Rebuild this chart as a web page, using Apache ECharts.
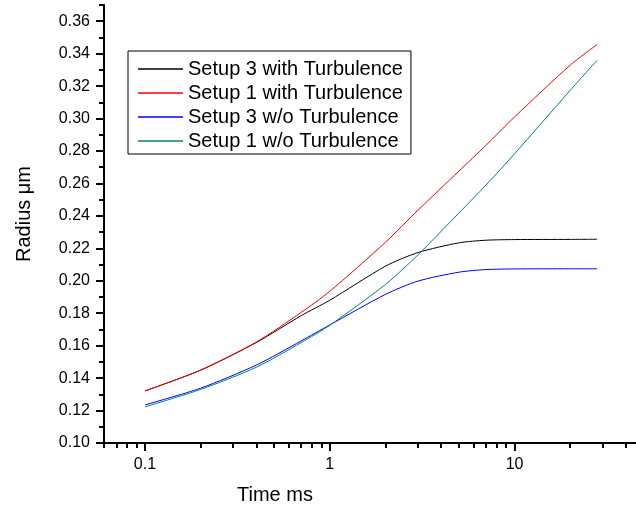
<!DOCTYPE html>
<html>
<head>
<meta charset="utf-8">
<script src="https://cdn.jsdelivr.net/npm/echarts@6/dist/echarts.min.js"></script>
<style>
  html, body { margin: 0; padding: 0; background: #fff; }
  #chart { width: 636px; height: 510px; }
</style>
</head>
<body>
<div id="chart"></div>
<script>
// Droplet radius growth over time (log time axis)
const times = [0.1, 0.2, 0.4, 0.7, 1, 2, 3, 5, 7, 10, 20, 28];
const setup3Turb   = [0.1321, 0.1449, 0.1619, 0.1785, 0.1880, 0.2090, 0.2174, 0.2234, 0.2250, 0.2254, 0.2255, 0.2256];
const setup1Turb   = [0.1321, 0.1449, 0.1622, 0.1805, 0.1935, 0.2237, 0.2435, 0.2676, 0.2835, 0.3010, 0.3329, 0.3457];
const setup3NoTurb = [0.1235, 0.1338, 0.1480, 0.1629, 0.1728, 0.1916, 0.1998, 0.2053, 0.2069, 0.2073, 0.2074, 0.2074];
const setup1NoTurb = [0.1223, 0.1330, 0.1467, 0.1619, 0.1726, 0.1977, 0.2160, 0.2418, 0.2590, 0.2783, 0.3174, 0.3360];

const seriesNames = ['Setup 3 with Turbulence', 'Setup 1 with Turbulence', 'Setup 3 w/o Turbulence', 'Setup 1 w/o Turbulence'];
const seriesColors = ['#000000', '#ff0000', '#0000ff', '#008080'];
const seriesValues = [setup3Turb, setup1Turb, setup3NoTurb, setup1NoTurb];

const xMajorTicks = [0.1, 1, 10];
const xMinorTicks = [0.06, 0.07, 0.08, 0.09, 0.2, 0.3, 0.4, 0.5, 0.6, 0.7, 0.8, 0.9,
                     2, 3, 4, 5, 6, 7, 8, 9, 20, 30, 40];
const yMajorTicks = [0.10, 0.12, 0.14, 0.16, 0.18, 0.20, 0.22, 0.24, 0.26, 0.28, 0.30, 0.32, 0.34, 0.36];
const yMinorTicks = [0.11, 0.13, 0.15, 0.17, 0.19, 0.21, 0.23, 0.25, 0.27, 0.29, 0.31, 0.33, 0.35, 0.37];

const FONT = 'Liberation Sans, Arial, sans-serif';
const X_MIN = 0.06, X_MAX = 45.4, Y_MIN = 0.10, Y_MAX = 0.37;

const axisLineStyle = { color: '#000', width: 2 };

const chart = echarts.init(document.getElementById('chart'), null, { renderer: 'canvas' });

chart.setOption({
  animation: false,
  backgroundColor: '#fff',
  grid: { left: 104, right: 0, top: 5, bottom: 66, containLabel: false },
  legend: {
    orient: 'vertical',
    left: 128,
    top: 51,
    padding: [8, 8, 3, 10],
    itemGap: 4,
    itemWidth: 45,
    itemHeight: 1.5,
    icon: 'rect',
    borderColor: '#000',
    borderWidth: 1,
    borderRadius: 0,
    backgroundColor: '#fff',
    textStyle: { fontFamily: FONT, fontSize: 20, color: '#000', lineHeight: 20 },
    data: seriesNames
  },
  xAxis: [
    {
      type: 'log', logBase: 10, min: X_MIN, max: X_MAX,
      name: 'Time ms', nameLocation: 'middle', nameGap: 42,
      nameTextStyle: { fontFamily: FONT, fontSize: 20, color: '#000', padding: [0, 190, 0, 0] },
      axisLine: { show: true, onZero: false, lineStyle: axisLineStyle },
      axisTick: { show: true, length: 8, lineStyle: axisLineStyle, customValues: xMajorTicks },
      axisLabel: {
        show: true, margin: 14, fontFamily: FONT, fontSize: 16, color: '#000',
        customValues: xMajorTicks,
        formatter: v => String(Number(v.toPrecision(6)))
      },
      splitLine: { show: false }, minorTick: { show: false }
    },
    {
      type: 'log', logBase: 10, min: X_MIN, max: X_MAX, position: 'bottom', offset: 0,
      axisLine: { show: false },
      axisTick: { show: true, length: 5, lineStyle: axisLineStyle, customValues: xMinorTicks },
      axisLabel: { show: false },
      splitLine: { show: false }
    }
  ],
  yAxis: [
    {
      type: 'value', min: Y_MIN, max: Y_MAX,
      name: 'Radius \u03bcm', nameLocation: 'middle', nameGap: 70, nameRotate: 90,
      nameTextStyle: { fontFamily: FONT, fontSize: 20, color: '#000', padding: [0, 0, 0, 20] },
      axisLine: { show: true, onZero: false, lineStyle: axisLineStyle },
      axisTick: { show: true, length: 8, lineStyle: axisLineStyle, customValues: yMajorTicks },
      axisLabel: {
        show: true, margin: 14, fontFamily: FONT, fontSize: 16, color: '#000',
        customValues: yMajorTicks,
        formatter: v => v.toFixed(2)
      },
      splitLine: { show: false }
    },
    {
      type: 'value', min: Y_MIN, max: Y_MAX, position: 'left', offset: 0,
      axisLine: { show: false },
      axisTick: { show: true, length: 5, lineStyle: axisLineStyle, customValues: yMinorTicks },
      axisLabel: { show: false },
      splitLine: { show: false }
    }
  ],
  series: seriesNames.map((name, i) => ({
    name: name,
    type: 'line',
    xAxisIndex: 0,
    yAxisIndex: 0,
    symbol: 'none',
    smooth: 0.25,
    color: seriesColors[i],
    lineStyle: { color: seriesColors[i], width: 1 },
    data: times.map((t, k) => [t, seriesValues[i][k]])
  }))
});
</script>
</body>
</html>
